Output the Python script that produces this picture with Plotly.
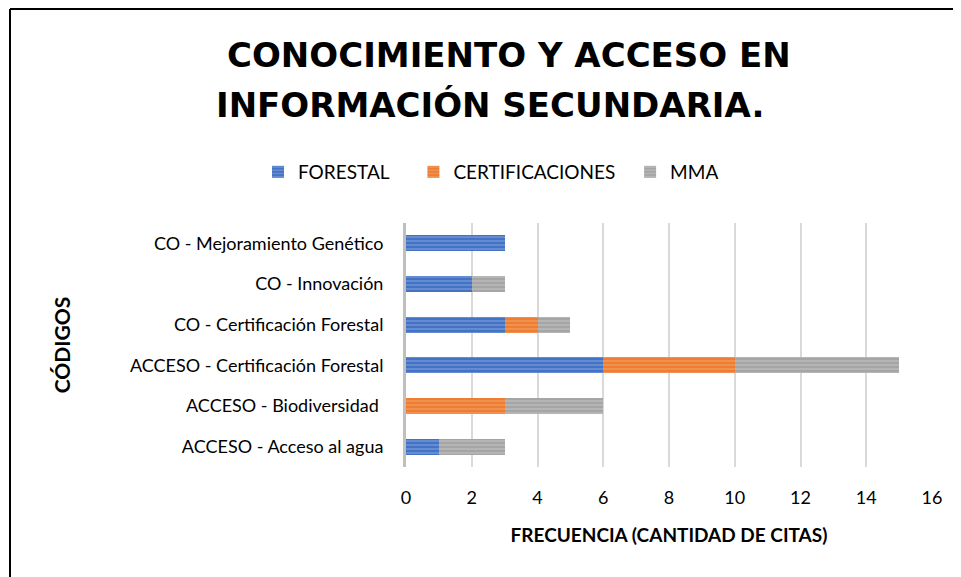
import plotly.graph_objects as go

# categories listed bottom to top (plotly draws the first category at the bottom)
codigos = [
    "ACCESO - Acceso al agua",
    "ACCESO - Biodiversidad ",
    "ACCESO - Certificación Forestal",
    "CO - Certificación Forestal",
    "CO - Innovación",
    "CO - Mejoramiento Genético",
]
forestal = [1, 0, 6, 3, 2, 3]
certificaciones = [0, 3, 4, 1, 0, 0]
mma = [2, 3, 5, 1, 1, 0]

x_ticks = [0, 2, 4, 6, 8, 10, 12, 14, 16]

title_lines = ["CONOCIMIENTO Y ACCESO EN", "INFORMACIÓN SECUNDARIA."]

NBSP = "\u00a0"
series = [
    # name, values, colour, stripe colour, legend padding
    ("FORESTAL", forestal, "#4472C4", "#A3BCE8", 4),
    ("CERTIFICACIONES", certificaciones, "#ED7D31", "#F6B68A", 2),
    ("MMA", mma, "#A5A5A5", "#D3D3D3", 0),
]

fig = go.Figure()
for name, vals, base, stripe, pad in series:
    fig.add_trace(go.Bar(
        y=codigos,
        x=vals,
        name=name + NBSP * pad,
        orientation="h",
        marker=dict(
            color=base,
            line=dict(width=0),
            pattern=dict(shape="-", fgcolor=stripe, bgcolor=base, size=4, solidity=0.35),
        ),
    ))

# the page puts the figure 8px in from the window corner
OFF = 8
W, H = 961 - OFF, 577 - OFF
# plot area in window pixels: x 406..932, y 223..467
L = 406 - OFF
R = 961 - 932
T = 223 - OFF
B = 577 - 467
pw, ph = W - L - R, H - T - B


def px_x(p):
    return (p - OFF - L) / pw


def px_y(p):
    return (H - B - (p - OFF)) / ph


fig.update_layout(
    width=W,
    height=H,
    margin=dict(l=L, r=R, t=T, b=B, autoexpand=False),
    barmode="stack",
    bargap=0.6,
    plot_bgcolor="white",
    paper_bgcolor="white",
    font=dict(family="Lato, sans-serif", color="#000000", size=18),
    showlegend=True,
    legend=dict(
        orientation="h",
        x=px_x(258),
        xanchor="left",
        y=px_y(172),
        yanchor="middle",
        font=dict(size=19),
        traceorder="normal",
        itemwidth=30,
    ),
    xaxis=dict(
        range=[0, 16],
        tickvals=x_ticks,
        showgrid=True,
        gridcolor="#D9D9D9",
        gridwidth=2,
        zeroline=False,
        showline=False,
        ticks="",
        ticklabelstandoff=18,
        tickfont=dict(size=18),
        title=dict(
            text="<b>FRECUENCIA (CANTIDAD DE CITAS)</b>",
            font=dict(size=19),
            standoff=21,
        ),
        fixedrange=True,
    ),
    yaxis=dict(
        showgrid=False,
        showline=True,
        linecolor="#BFBFBF",
        linewidth=3,
        ticks="",
        ticklabelstandoff=16,
        tickfont=dict(size=18),
        title=dict(text="<b>CÓDIGOS</b>", font=dict(size=21), standoff=54),
        fixedrange=True,
    ),
    annotations=[
        dict(text="<b>%s</b>" % title_lines[0], xref="paper", yref="paper",
             x=px_x(509), y=px_y(55), xanchor="center", yanchor="middle",
             showarrow=False, font=dict(family="DejaVu Sans, sans-serif", size=34)),
        dict(text="<b>%s</b>" % title_lines[1], xref="paper", yref="paper",
             x=px_x(490), y=px_y(105), xanchor="center", yanchor="middle",
             showarrow=False, font=dict(family="DejaVu Sans, sans-serif", size=34)),
    ],
    shapes=[
        dict(type="line", xref="paper", yref="paper",
             x0=px_x(10), x1=px_x(10), y0=px_y(9), y1=px_y(600),
             line=dict(color="black", width=2)),
        dict(type="line", xref="paper", yref="paper",
             x0=px_x(10), x1=px_x(990), y0=px_y(9), y1=px_y(9),
             line=dict(color="black", width=2)),
    ],
)

fig.write_html("out.html")
